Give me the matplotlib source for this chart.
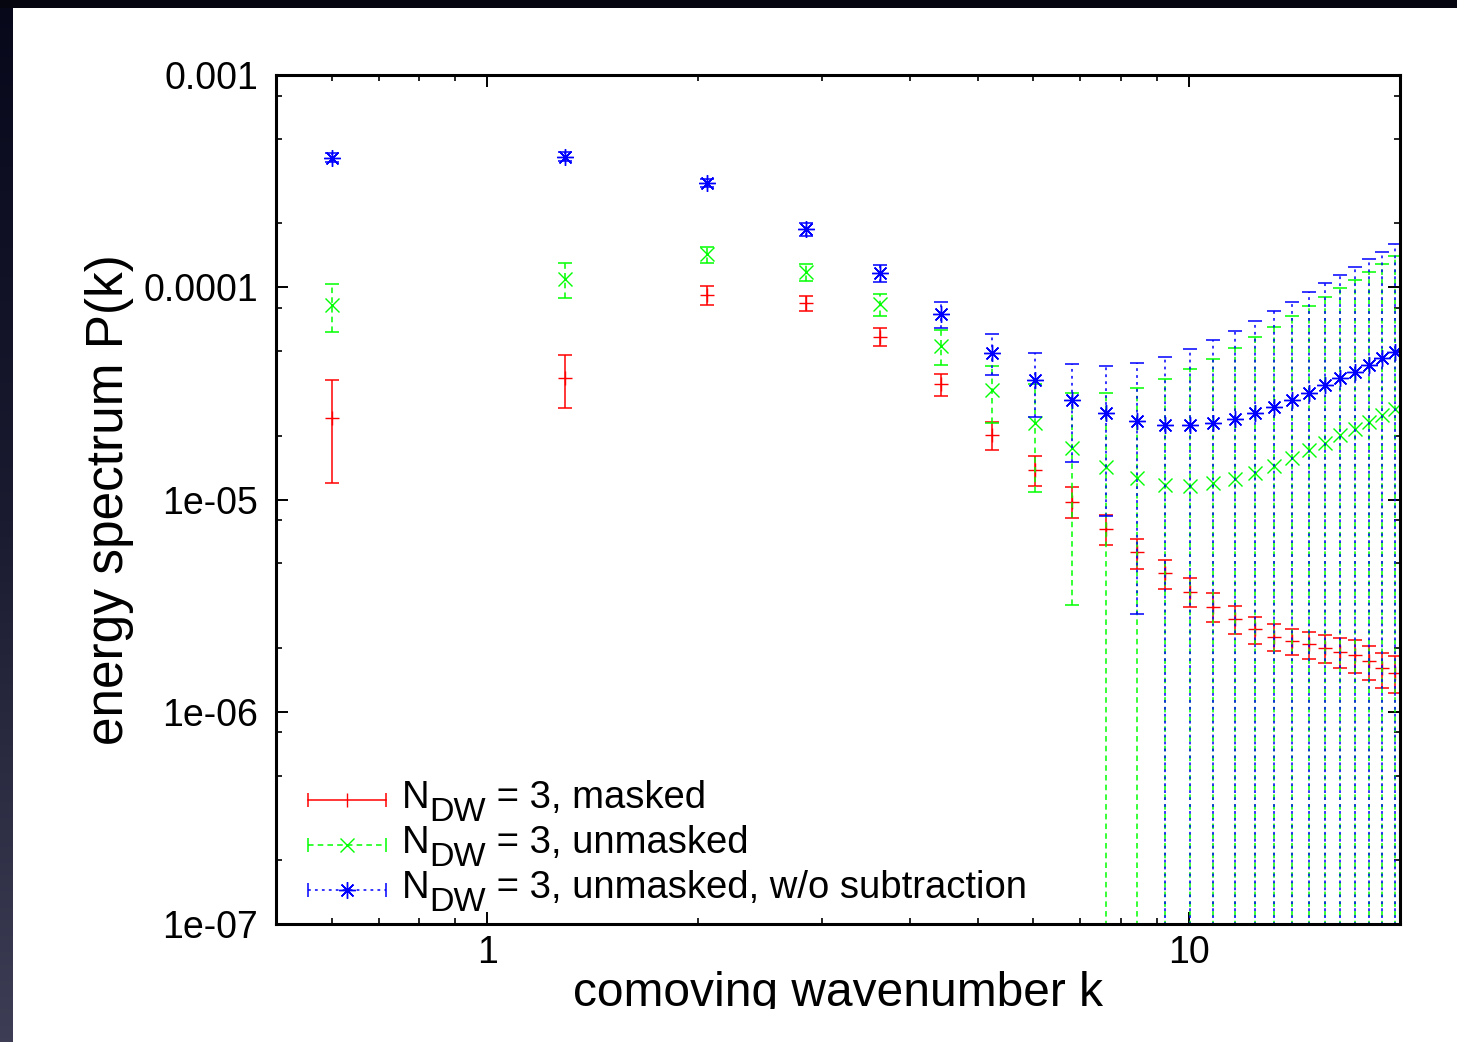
import numpy as np
import matplotlib
matplotlib.use("Agg")
import matplotlib.pyplot as plt
from matplotlib.ticker import LogLocator, NullFormatter, FixedLocator, FixedFormatter

plt.rcParams['font.family'] = ['Liberation Sans', 'DejaVu Sans']
plt.rcParams['lines.scale_dashes'] = False

# comoving wavenumber bins
k = [0.60, 1.29, 2.06, 2.85, 3.63, 4.43, 5.24, 6.03, 6.81, 7.62, 8.43, 9.24,
     10.03, 10.82, 11.63, 12.42, 13.21, 14.02, 14.82, 15.62, 16.41, 17.24,
     18.05, 18.83, 19.65]

# N_DW = 3, masked
masked_P = [2.42e-5, 3.74e-5, 9.19e-5, 8.40e-5, 5.85e-5, 3.49e-5, 2.01e-5,
            1.38e-5, 9.77e-6, 7.28e-6, 5.64e-6, 4.49e-6, 3.68e-6, 3.13e-6,
            2.74e-6, 2.45e-6, 2.26e-6, 2.16e-6, 2.08e-6, 2.00e-6, 1.92e-6,
            1.85e-6, 1.73e-6, 1.60e-6, 1.53e-6]
masked_err = [1.22e-5, 1.05e-5, 9.2e-6, 6.5e-6, 5.5e-6, 4.3e-6, 3.0e-6,
              2.2e-6, 1.63e-6, 1.17e-6, 9.1e-7, 7.1e-7, 5.7e-7, 4.8e-7,
              4.2e-7, 3.6e-7, 3.3e-7, 3.0e-7, 3.0e-7, 3.0e-7, 3.1e-7,
              3.2e-7, 3.2e-7, 3.0e-7, 3.0e-7]

# N_DW = 3, unmasked
unmasked_P = [8.25e-5, 1.094e-4, 1.429e-4, 1.183e-4, 8.31e-5, 5.29e-5,
              3.28e-5, 2.29e-5, 1.74e-5, 1.43e-5, 1.26e-5, 1.17e-5, 1.16e-5,
              1.19e-5, 1.25e-5, 1.33e-5, 1.44e-5, 1.57e-5, 1.72e-5, 1.85e-5,
              2.01e-5, 2.16e-5, 2.33e-5, 2.49e-5, 2.66e-5]
unmasked_err = [2.11e-5, 2.03e-5, 1.23e-5, 1.10e-5, 1.00e-5, 9.9e-6, 9.9e-6,
                1.20e-5, 1.42e-5, 1.74e-5, 2.11e-5, 2.51e-5, 2.94e-5, 3.41e-5,
                3.93e-5, 4.50e-5, 5.08e-5, 5.72e-5, 6.42e-5, 7.14e-5, 7.88e-5,
                8.69e-5, 9.50e-5, 1.04e-4, 1.13e-4]

# N_DW = 3, unmasked, w/o subtraction
nosub_P = [4.08e-4, 4.12e-4, 3.11e-4, 1.875e-4, 1.163e-4, 7.48e-5, 4.92e-5,
           3.66e-5, 2.94e-5, 2.55e-5, 2.34e-5, 2.24e-5, 2.24e-5, 2.29e-5,
           2.40e-5, 2.56e-5, 2.74e-5, 2.94e-5, 3.18e-5, 3.45e-5, 3.72e-5,
           4.00e-5, 4.30e-5, 4.63e-5, 4.95e-5]
nosub_err = [2.0e-5, 2.0e-5, 1.3e-5, 1.28e-5, 1.08e-5, 1.07e-5, 1.07e-5,
             1.22e-5, 1.43e-5, 1.71e-5, 2.05e-5, 2.43e-5, 2.87e-5, 3.35e-5,
             3.83e-5, 4.39e-5, 4.99e-5, 5.61e-5, 6.28e-5, 6.99e-5, 7.70e-5,
             8.42e-5, 9.24e-5, 1.01e-4, 1.10e-4]

ytick_values = [1e-7, 1e-6, 1e-5, 1e-4, 1e-3]
ytick_labels = ['1e-07', '1e-06', '1e-05', '0.0001', '0.001']
xtick_values = [1, 10]
xtick_labels = ['1', '10']

W, H = 1457, 1042
fig = plt.figure(figsize=(W / 100, H / 100), dpi=100, facecolor='white')

# dark slide border along the top and left edges
bg = fig.add_axes([0, 0, 1, 1], zorder=-10)
bg.set_axis_off()
bg.set_xlim(0, W)
bg.set_ylim(H, 0)
grad = np.linspace(0, 1, 256)[:, None]
bg.imshow(grad, cmap=matplotlib.colors.LinearSegmentedColormap.from_list(
    'edge', ['#07081a', '#1a1b30', '#3d3e55']), extent=[0, 13, H, 0],
    aspect='auto')
bg.add_patch(plt.Rectangle((0, 0), W, 8, color='#05060f', lw=0))

ax = fig.add_axes([276 / W, 1 - 924 / H, 1124 / W, 849 / H])
ax.set_xscale('log')
ax.set_yscale('log', nonpositive='clip')
ax.set_xlim(0.5, 20)
ax.set_ylim(1e-7, 1e-3)

series = [
    (masked_P, masked_err, '#ff0000', '-', '+', 9.5,
     'N', 'DW', ' = 3, masked'),
    (unmasked_P, unmasked_err, '#00ff00', (0, (4.0, 3.0)), 'x', 10.5,
     'N', 'DW', ' = 3, unmasked'),
    (nosub_P, nosub_err, '#0000ff', (0, (2.0, 3.0)), (8, 2, 0), 12,
     'N', 'DW', ' = 3, unmasked, w/o subtraction'),
]

for P, err, color, ls, mk, ms, *_ in series:
    line, caps, bars = ax.errorbar(k, P, yerr=err, fmt='none', ecolor=color,
                                   elinewidth=1.1, capsize=4.7, capthick=1.1)
    bars[0].set_linestyle(ls)
    ax.plot(k, P, linestyle='none', marker=mk, color=color, ms=ms, mew=1.0)

ax.yaxis.set_major_locator(FixedLocator(ytick_values))
ax.yaxis.set_major_formatter(FixedFormatter(ytick_labels))
ax.yaxis.set_minor_locator(LogLocator(base=10, subs=[2, 5, 8]))
ax.yaxis.set_minor_formatter(NullFormatter())
ax.xaxis.set_major_locator(FixedLocator(xtick_values))
ax.xaxis.set_major_formatter(FixedFormatter(xtick_labels))
ax.xaxis.set_minor_locator(LogLocator(base=10, subs=np.arange(2, 10)))
ax.xaxis.set_minor_formatter(NullFormatter())

ax.tick_params(which='both', direction='in', top=True, right=True,
               labelsize=27, color='black')
ax.tick_params(which='major', length=8.6, width=1.4)
ax.tick_params(which='minor', length=4.3, width=1.2)
ax.tick_params(axis='y', which='major', pad=13)
ax.tick_params(axis='x', which='major', pad=8)
for s in ax.spines.values():
    s.set_linewidth(2.2)

ax.set_xlabel('comoving wavenumber k', fontsize=34.5)
ax.xaxis.set_label_coords(0.5, -0.055)
ax.set_ylabel('energy spectrum P(k)', fontsize=37)
ax.yaxis.set_label_coords(-0.126, 0.5)

# key: sample stroke with end caps and centre symbol, then label text
row_y = [0.146, 0.093, 0.040]
x0, x1 = 0.0285, 0.0979
tx = 0.112
for (P, err, color, ls, mk, ms, base, sub, rest), y in zip(series, row_y):
    ax.plot([x0, x1], [y, y], transform=ax.transAxes, color=color, ls=ls,
            lw=1.1, clip_on=False)
    ax.plot([x0, x1], [y, y], transform=ax.transAxes, color=color,
            ls='none', marker='|', ms=9.5, mew=1.1, clip_on=False)
    ax.plot([(x0 + x1) / 2], [y], transform=ax.transAxes, color=color,
            ls='none', marker=mk if mk != '+' else '|', ms=ms, mew=1.0,
            clip_on=False)
    t1 = ax.text(tx, y - 0.0095, base, transform=ax.transAxes, fontsize=27.5,
                 va='baseline', ha='left')
    t2 = ax.annotate(sub, xy=(1, 0), xycoords=t1, xytext=(0, -3.5),
                     textcoords='offset points', fontsize=24.5,
                     va='baseline', ha='left')
    ax.annotate(rest, xy=(1, 0), xycoords=(t2, t1), xytext=(0, 0),
                textcoords='offset points', fontsize=27.5, va='bottom',
                ha='left')

# the slide image ends just below the axis title
fig.patches.append(plt.Rectangle((13 / W, 0), 1, 1 - 1009 / H,
                                 transform=fig.transFigure, color='white',
                                 lw=0, zorder=50))

fig.savefig('out.png', dpi=100, facecolor='white')
